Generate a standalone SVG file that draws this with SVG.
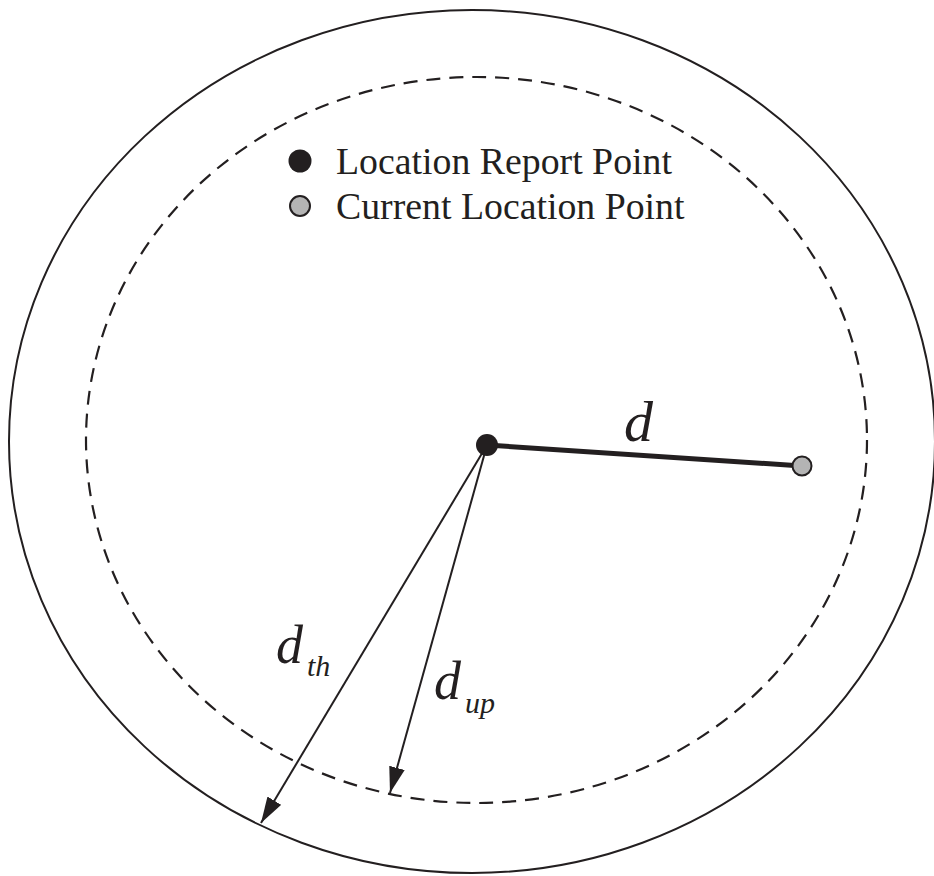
<svg xmlns="http://www.w3.org/2000/svg" width="934" height="876" viewBox="0 0 934 876">
<style>
.t{font-family:"Liberation Serif","Times New Roman",serif;fill:#231f20}
.i{font-family:"Liberation Serif","Times New Roman",serif;font-style:italic;fill:#231f20}
.ln{stroke:#231f20;fill:none}
</style>
<defs>
<marker id="ah" markerUnits="userSpaceOnUse" markerWidth="28" markerHeight="18" refX="26" refY="8" orient="auto">
<path d="M0,0 L26,8 L0,16 z" fill="#231f20"/>
</marker>
</defs>
<rect width="934" height="876" fill="#fff"/>
<g id="outer-boundary">
<ellipse cx="472" cy="441.5" rx="463" ry="431.5" class="ln" stroke-width="2"/>
</g>
<g id="update-boundary">
<ellipse cx="476.5" cy="440" rx="390.5" ry="363" class="ln" stroke-width="2.2" stroke-dasharray="14,9"/>
</g>
<g id="connectors">
<line x1="487" y1="445" x2="802" y2="466" class="ln" stroke-width="5"/>
<line x1="487" y1="445" x2="261" y2="823" class="ln" stroke-width="2" marker-end="url(#ah)"/>
<line x1="487" y1="445" x2="390" y2="793" class="ln" stroke-width="2" marker-end="url(#ah)"/>
</g>
<g id="location-report-point">
<circle cx="487" cy="445" r="11" fill="#231f20"/>
</g>
<g id="current-location-point">
<circle cx="802" cy="466" r="9.5" fill="#b4b4b4" stroke="#231f20" stroke-width="2"/>
</g>
<g id="legend">
<circle cx="300" cy="161" r="11.5" fill="#231f20"/>
<text x="336" y="174" class="t" font-size="37.8">Location Report Point</text>
<circle cx="300" cy="206" r="10" fill="#b4b4b4" stroke="#231f20" stroke-width="2"/>
<text x="336" y="219" class="t" font-size="37.8">Current Location Point</text>
</g>
<g id="labels">
<text x="624" y="441" class="i" font-size="58">d</text>
<text x="276" y="663" class="i" font-size="54">d<tspan font-size="30" dx="4" dy="13">th</tspan></text>
<text x="434" y="699" class="i" font-size="54">d<tspan font-size="30" dx="4" dy="14">up</tspan></text>
</g>
</svg>
